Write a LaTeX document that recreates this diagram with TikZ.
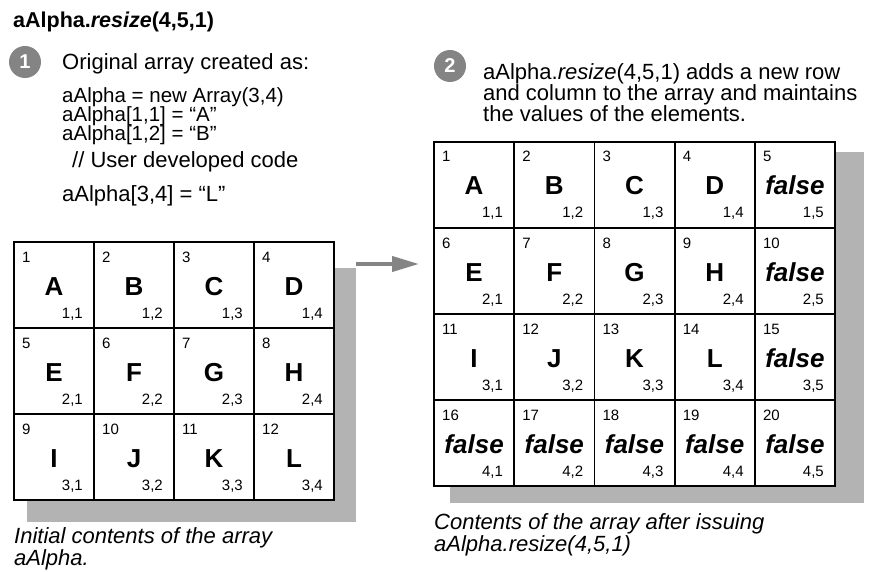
\documentclass[tikz,border=0pt]{standalone}
\usepackage{fontspec}
\setmainfont{Liberation Sans}
\usetikzlibrary{arrows.meta,calc}
\definecolor{shadowgray}{HTML}{B3B3B3}
\definecolor{bubblegray}{HTML}{848484}
\newcommand\letterof[1]{\ifcase#1\or A\or B\or C\or D\or E\or F\or G\or H\or I\or J\or K\or L\fi}
\tikzset{
  cellbox/.style={draw, fill=white, line width=1.8pt, minimum width=80pt, minimum height=86pt, inner sep=0pt, outer sep=0pt},
  idxtxt/.style={font=\fontsize{15}{17}\selectfont, anchor=base west, inner sep=0pt},
  maintxt/.style={font=\fontsize{26}{30}\selectfont\bfseries, anchor=base, inner sep=0pt},
  rctxt/.style={font=\fontsize{15}{17}\selectfont, anchor=base east, inner sep=0pt},
  bodytxt/.style={font=\fontsize{22}{24}\selectfont, anchor=base west, inner sep=0pt, text height=14pt, text depth=3.5pt},
  codetxt/.style={font=\fontsize{20.5}{22}\selectfont, anchor=base west, inner sep=0pt, text height=13pt, text depth=3pt},
  captxt/.style={font=\fontsize{22}{24}\selectfont\itshape, anchor=base west, inner sep=0pt, text height=15pt, text depth=4pt},
  bubble/.style={circle, fill=bubblegray, text=white, font=\fontsize{20}{22}\selectfont\bfseries, minimum size=32pt, inner sep=0pt}
}
\begin{document}
\begin{tikzpicture}[x=1pt, y=-1pt]
\useasboundingbox (0,0) rectangle (873,572);
% title
\node[anchor=base west, inner sep=0pt, font=\fontsize{21.5}{24}\selectfont\bfseries] (title) at (13,28) {aAlpha.\textit{resize}(4,5,1)};
% step 1
\node[bubble] (b1) at (25,62) {1};
\node[bodytxt] (t1) at (62,70) {Original array created as:};
\node[codetxt] (c1) at (62,103) {aAlpha = new Array(3,4)};
\node[codetxt] (c2) at (62,122) {aAlpha[1,1] = “A”};
\node[codetxt] (c3) at (62,141) {aAlpha[1,2] = “B”};
\node[bodytxt] (c4) at (72,168) {// User developed code};
\node[bodytxt] (c5) at (62,202) {aAlpha[3,4] = “L”};
% left shadow and grid
\fill[shadowgray] (27,268) rectangle (356,522);
\foreach \r in {1,2,3}{
  \foreach \c in {1,2,3,4}{
    \pgfmathtruncatemacro\n{(\r-1)*4+\c}
    \pgfmathsetmacro\cx{14+80*(\c-1)}
    \pgfmathsetmacro\cy{242+86*(\r-1)}
    \node[cellbox, anchor=north west] (L-\r-\c) at (\cx,\cy) {};
    \node[idxtxt] at ($(L-\r-\c.north west)+(8,20)$) {\n};
    \node[maintxt] at ($(L-\r-\c.north)+(0,53)$) {\letterof{\n}};
    \node[rctxt] at ($(L-\r-\c.north east)+(-11,76)$) {\r,\c};
  }
}
\node[captxt] (cap1a) at (14,543) {Initial contents of the array};
\node[captxt] (cap1b) at (14,565) {aAlpha.};
% arrow
\coordinate (arrS) at (356,264);
\coordinate (arrE) at (419,264);
\draw[bubblegray, line width=4pt, -{Triangle[length=27pt,width=15pt]}] (arrS) -- (arrE);
% step 2
\node[bubble] (b2) at (450,66) {2};
\node[bodytxt] (t2) at (483,80) {aAlpha.\textit{resize}(4,5,1) adds a new row};
\node[bodytxt] (t2b) at (483,101) {and column to the array and maintains};
\node[bodytxt] (t2c) at (483,122) {the values of the elements.};
% right shadow and grid
\fill[shadowgray] (450,152) rectangle (864,503);
\foreach \r in {1,2,3,4}{
  \foreach \c in {1,2,3,4,5}{
    \pgfmathtruncatemacro\n{(\r-1)*5+\c}
    \pgfmathtruncatemacro\m{(\r-1)*4+\c}
    \pgfmathsetmacro\cx{434+80.2*(\c-1)}
    \pgfmathsetmacro\cy{142+86*(\r-1)}
    \node[cellbox, minimum width=80.2pt, anchor=north west] (R-\r-\c) at (\cx,\cy) {};
    \node[idxtxt] at ($(R-\r-\c.north west)+(8,20)$) {\n};
    \ifnum\r<4 \ifnum\c<5
      \node[maintxt] at ($(R-\r-\c.north)+(0,53)$) {\letterof{\m}};
    \else
      \node[maintxt] at ($(R-\r-\c.north)+(0,53)$) {\textit{false}};
    \fi\else
      \node[maintxt] at ($(R-\r-\c.north)+(0,53)$) {\textit{false}};
    \fi
    \node[rctxt] at ($(R-\r-\c.north east)+(-11,76)$) {\r,\c};
  }
}
\node[captxt] (cap2a) at (434,529) {Contents of the array after issuing};
\node[captxt] (cap2b) at (434,551) {aAlpha.resize(4,5,1)};
\end{tikzpicture}
\end{document}
